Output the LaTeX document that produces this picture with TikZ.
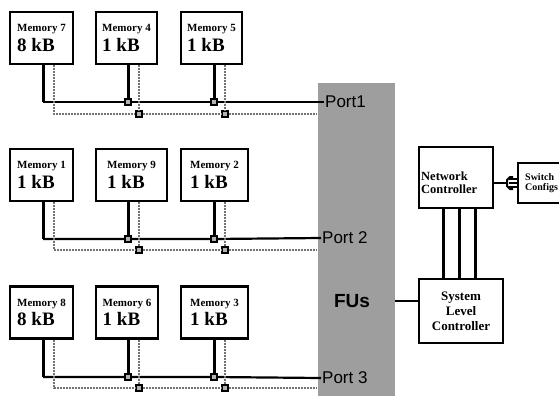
\documentclass[tikz,border=0pt]{standalone}
\usepackage{fontspec}
\setmainfont{Liberation Serif}
\setsansfont{Liberation Sans}
\usetikzlibrary{calc}
\newcommand{\membox}[5]
{   \node[mem, minimum width=#3] (#1) at (#2)
    {{\fontsize{11}{12}\selectfont #4}\\[3pt]{\fontsize{19}{20}\selectfont #5}};
}
\newcommand{\busdark}{black}
\newcommand{\busgray}{black!55}

\tikzset{
 mem/.style={draw, line width=2.4pt, minimum height=52, align=left, inner sep=0pt, font=\bfseries},
 box/.style={draw, line width=2.4pt, inner sep=0pt},
 ctl/.style={font={\fontsize{13}{15}\selectfont\bfseries}},
 port/.style={anchor=west, inner sep=1pt, font={\sffamily\fontsize{17}{18}\selectfont}},
 fucol/.style={fill=black!38, minimum width=77, minimum height=313, inner sep=0pt},
 jct/.style={draw, line width=1.4pt, fill=black!30, minimum size=6, inner sep=0pt},
 bus/.style={draw=\busdark, line width=2.2pt},
 drop/.style={draw=\busdark, line width=3pt},
 dbus/.style={draw=\busgray, densely dotted, line width=2pt},
 link/.style={line width=3pt}
}

\begin{document}
\begin{tikzpicture}[x=1pt,y=-1pt]
 \useasboundingbox (0,0) rectangle (559,396);
 \clip (0,0) rectangle (559,396);

 % FUs column
 \node[fucol] (fus) at (356,239.5) {};
 \node[font={\sffamily\bfseries\fontsize{19}{20}\selectfont}] (fulabel) at (352,301) {FUs};

 % memories
 \membox{mem7}{41.5,38}{63}{Memory 7}{8 kB}
 \membox{mem4}{126.5,38}{61}{Memory 4}{1 kB}
 \membox{mem5}{211.5,38}{61}{Memory 5}{1 kB}
 \membox{mem1}{41.5,175}{63}{Memory 1}{1 kB}
 \membox{mem9}{131.5,175}{71}{Memory 9}{1 kB}
 \membox{mem2}{214.5,175}{67}{Memory 2}{1 kB}
 \membox{mem8}{41.5,312.5}{63}{Memory 8}{8 kB}
 \membox{mem6}{127,312.5}{62}{Memory 6}{1 kB}
 \membox{mem3}{214.5,312.5}{67}{Memory 3}{1 kB}

 % ports
 \node[port] (port1) at (324,102) {Port1};
 \node[port] (port2) at (321,238) {Port 2};
 \node[port] (port3) at (321,378) {Port 3};

 % bus 1
 \coordinate (c7a) at (43,102);  \coordinate (c7b) at (54,114);
 \node[jct] (j4a) at (128,102) {}; \node[jct] (j4b) at (139,114) {};
 \node[jct] (j5a) at (214,102) {}; \node[jct] (j5b) at (225,114) {};
 \draw[drop] (c7a |- mem7.south) -- (c7a);
 \draw[drop] (j4a |- mem4.south) -- (j4a);
 \draw[drop] (j5a |- mem5.south) -- (j5a);
 \draw[bus] (c7a) -- (j4a) -- (j5a) -- (port1.west);
 \draw[dbus] (c7b |- mem7.south) -- (c7b) -- (j4b) -- (j5b) -- (fus.west |- c7b);
 \draw[dbus] (j4b |- mem4.south) -- (j4b);
 \draw[dbus] (j5b |- mem5.south) -- (j5b);

 % bus 2
 \coordinate (c1a) at (43,239);  \coordinate (c1b) at (54,250);
 \node[jct] (j9a) at (128,239) {}; \node[jct] (j9b) at (139,250) {};
 \node[jct] (j2a) at (214,239) {}; \node[jct] (j2b) at (225,250) {};
 \draw[drop] (c1a |- mem1.south) -- (c1a);
 \draw[drop] (j9a |- mem9.south) -- (j9a);
 \draw[drop] (j2a |- mem2.south) -- (j2a);
 \draw[bus] (c1a) -- (j9a) -- (j2a) -- (port2.west);
 \draw[dbus] (c1b |- mem1.south) -- (c1b) -- (j9b) -- (j2b) -- (fus.west |- c1b);
 \draw[dbus] (j9b |- mem9.south) -- (j9b);
 \draw[dbus] (j2b |- mem2.south) -- (j2b);

 % bus 3
 \coordinate (c8a) at (43,377);  \coordinate (c8b) at (54,388);
 \node[jct] (j6a) at (128,377) {}; \node[jct] (j6b) at (139,388) {};
 \node[jct] (j3a) at (214,377) {}; \node[jct] (j3b) at (225,388) {};
 \draw[drop] (c8a |- mem8.south) -- (c8a);
 \draw[drop] (j6a |- mem6.south) -- (j6a);
 \draw[drop] (j3a |- mem3.south) -- (j3a);
 \draw[bus] (c8a) -- (j6a) -- (j3a) -- (port3.west);
 \draw[dbus] (c8b |- mem8.south) -- (c8b) -- (j6b) -- (j3b) -- (fus.west |- c8b);
 \draw[dbus] (j6b |- mem6.south) -- (j6b);
 \draw[dbus] (j3b |- mem3.south) -- (j3b);

 % controllers
 \node[box, minimum width=74, minimum height=61] (nc) at (456,177.5) {};
 \node[ctl, anchor=west, align=left, inner sep=0pt, font={\fontsize{12.5}{13}\selectfont\bfseries}] (nclabel) at (421,183) {Network\\Controller};
 \node[box, ctl, align=center, minimum width=84, minimum height=64] (slc) at (461,311) {System\\Level\\Controller};
 \node[box, anchor=west, align=left, text width=46, minimum width=60, minimum height=40,
       font={\fontsize{10}{10}\selectfont\bfseries}] (sw) at (517,183) {Switch\\Configs};

 \foreach \dx in {-13,3,19}
   \draw[link] (nc.south) ++(\dx,0) coordinate (up) -- (up |- slc.north);
 \draw[line width=1.6pt] (slc.west |- fulabel) -- (fus.east |- fulabel);

 % plug to switch configs
 \draw[line width=1.6pt] (nc.east |- sw.west) -- ($(sw.west)+(-9,0)$);
 \draw[line width=2pt] (sw.west) ++(-4,-6) -- ++(-3,0) -- ++(-3,3) -- ++(0,6) -- ++(3,3) -- ++(3,0);
 \foreach \dy in {-4,0,4}
   \draw[line width=1.6pt] (sw.west) ++(-8,\dy) -- ++(8,0);
\end{tikzpicture}
\end{document}
